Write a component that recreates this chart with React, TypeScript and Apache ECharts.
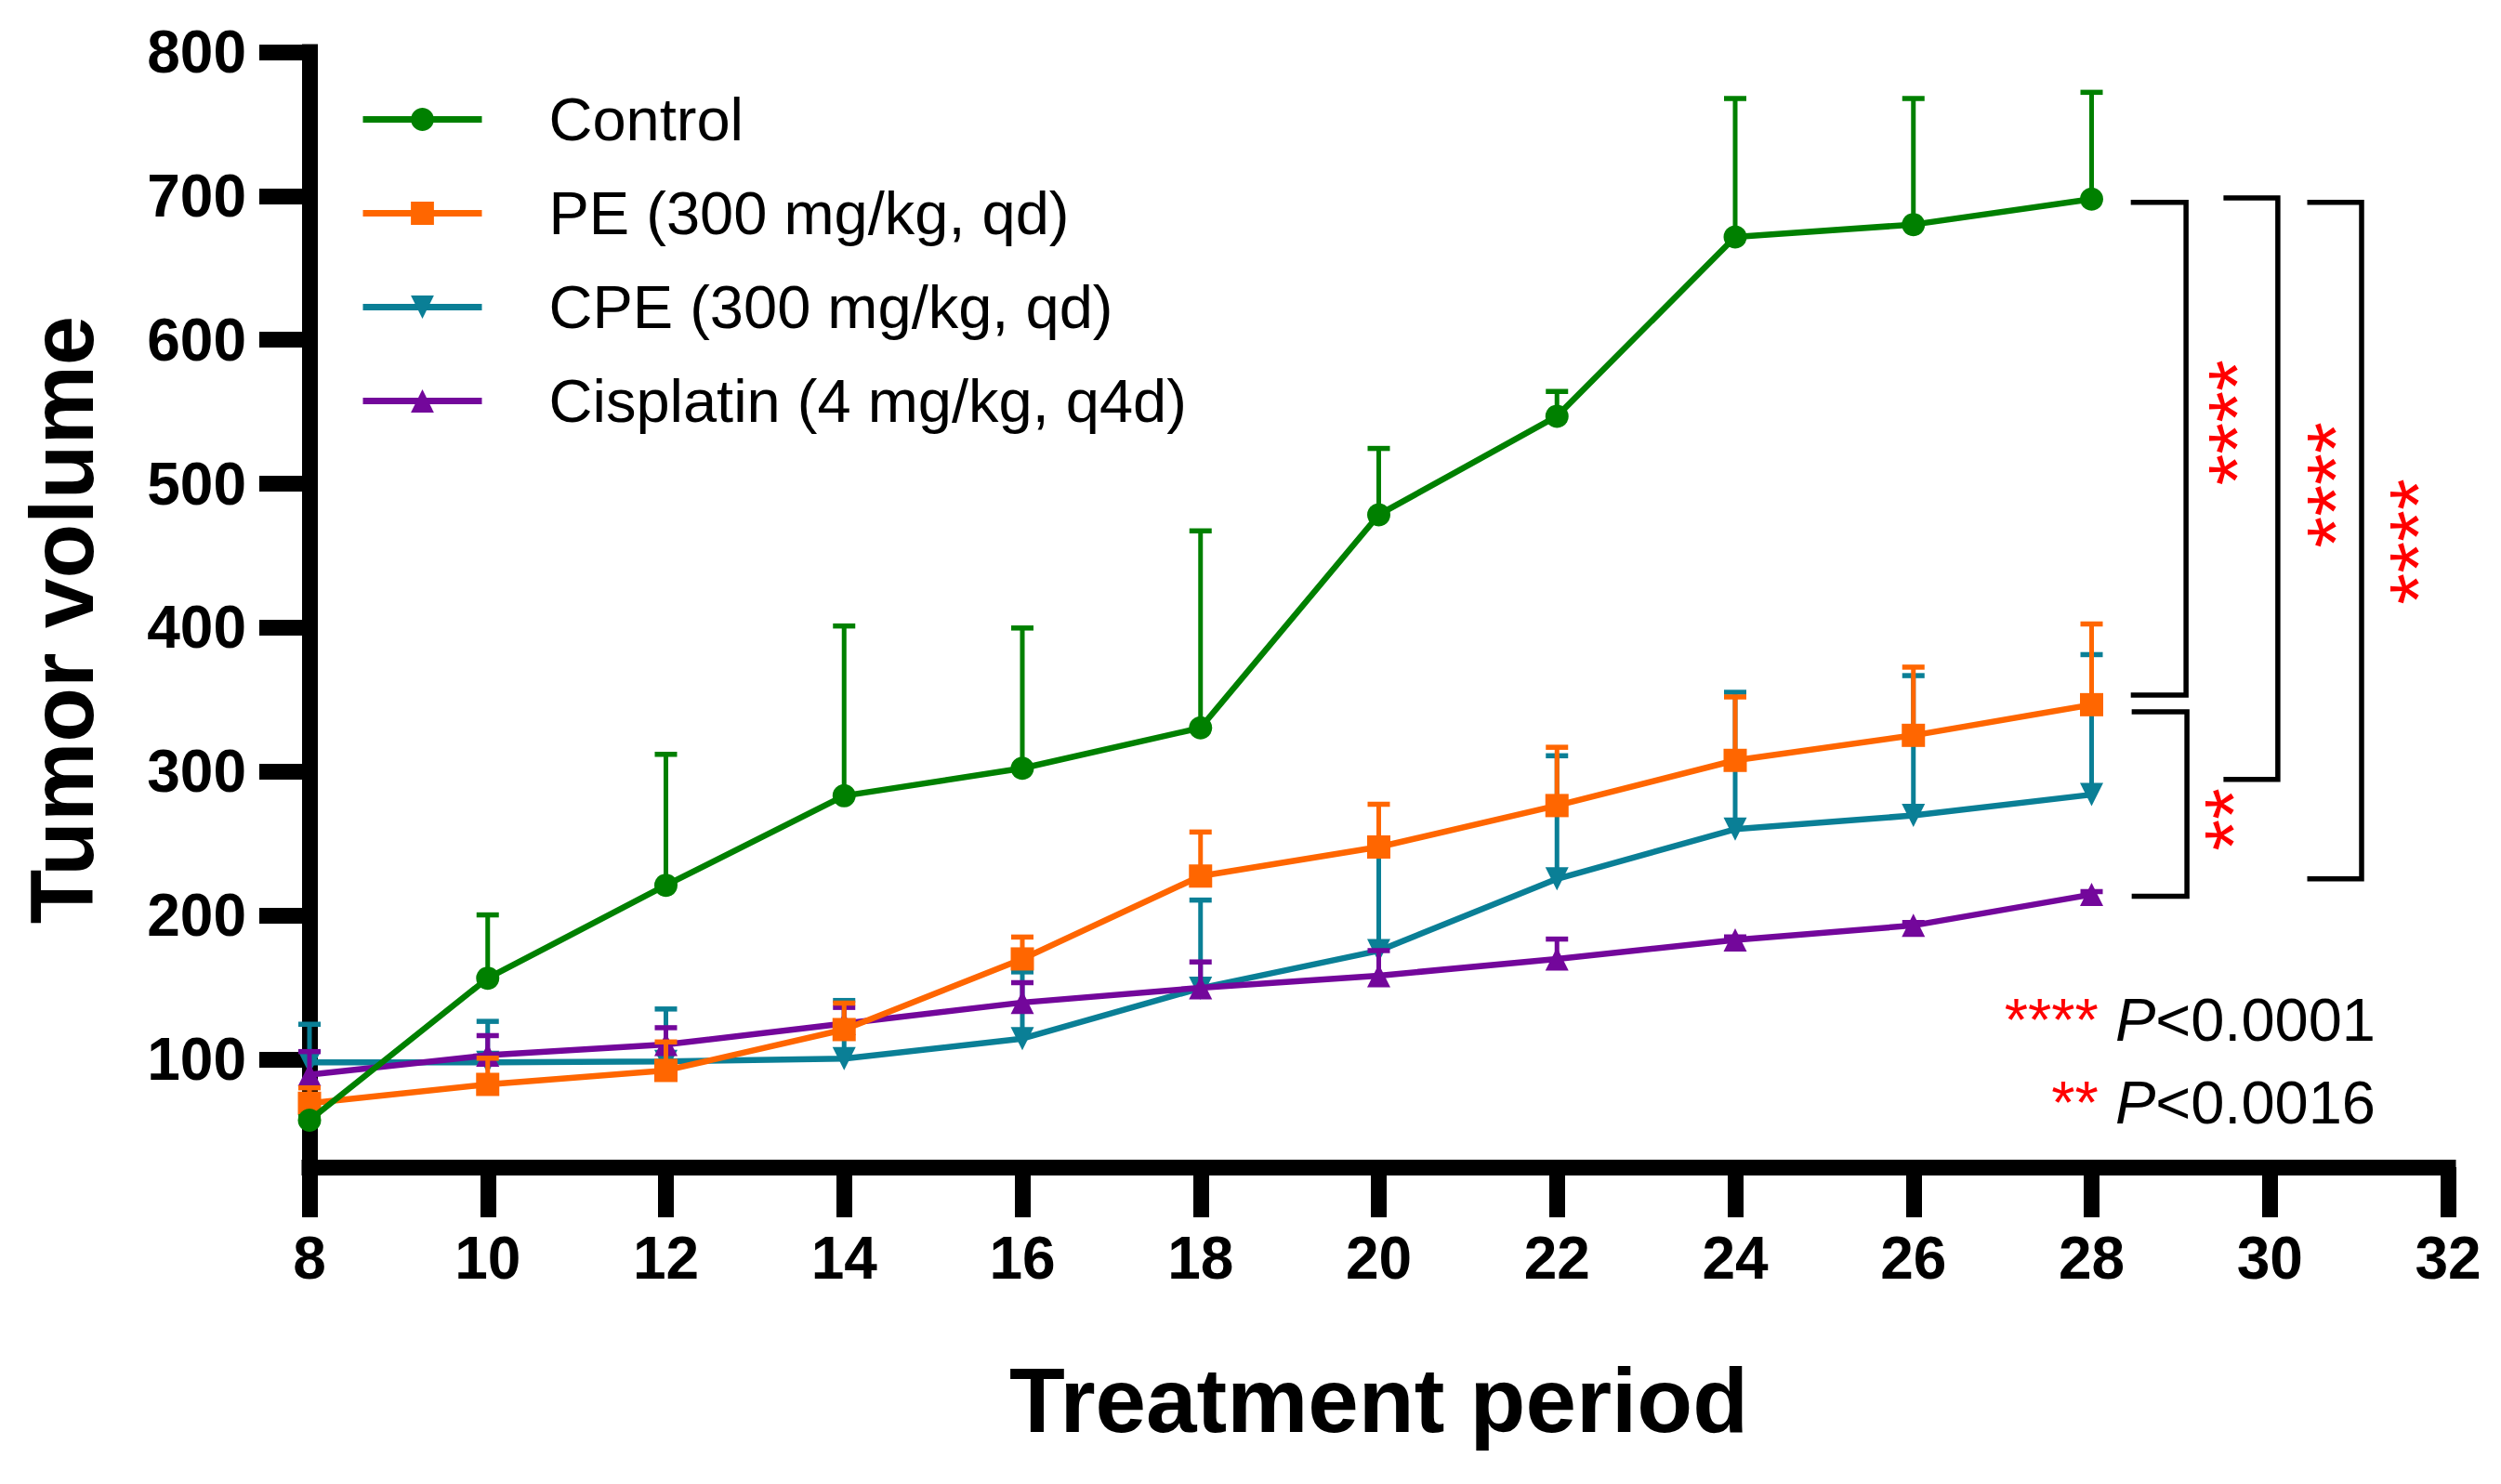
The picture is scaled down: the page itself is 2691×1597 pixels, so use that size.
import React, { useEffect, useRef } from "react";
import * as echarts from "echarts";

const FONT = '"Liberation Sans", Arial, Helvetica, sans-serif';

// ---- data -------------------------------------------------------------
const days = [8, 10, 12, 14, 16, 18, 20, 22, 24, 26, 28];

const groupNames = [
  "Control",
  "PE (300 mg/kg, qd)",
  "CPE (300 mg/kg, qd)",
  "Cisplatin (4 mg/kg, q4d)",
];

// mean tumor volume per group
const controlMean = [57.6, 156.3, 220.9, 283.1, 302.2, 330.3, 478.4, 546.9, 671.5, 680.1, 697.8];
const peMean = [69.4, 82.5, 92.2, 120.6, 169.7, 227.3, 247.5, 276.3, 307.7, 325.1, 346.4];
const cpeMean = [97.8, 97.8, 98.4, 100.4, 114.3, 149.4, 175.4, 225.3, 259.9, 269.4, 283.9];
const cisplatinMean = [89.2, 102.8, 110.2, 124.8, 139.4, 149.6, 158.1, 169.7, 182.9, 193.0, 214.5];

// upper end of the error bar (mean + SD)
const controlUpper = [60.0, 200.3, 311.9, 401.1, 399.7, 467.2, 524.5, 564.1, 767.7, 767.7, 772.0];
const peUpper = [80.1, 100.7, 112.0, 139.0, 184.9, 257.9, 277.2, 316.8, 351.8, 372.5, 402.5];
const cpeUpper = [124.3, 126.3, 134.9, 140.8, 160.7, 210.6, 245.0, 310.9, 355.0, 366.6, 381.2];
const cisplatinUpper = [105.3, 116.4, 121.9, 136.0, 153.2, 167.6, 175.5, 183.5, 185.0, 195.0, 216.5];

const yTickValues = [100, 200, 300, 400, 500, 600, 700, 800];

// significance brackets at the last time point: [x left, x right, y top, y bottom]
const brackets = [
  [28.44, 29.06, 695.6, 353.1],
  [28.45, 29.07, 341.5, 213.2],
  [29.48, 30.09, 698.6, 294.4],
  [30.42, 31.03, 695.6, 225.3],
];
const bracketStars = ["****", "**", "****", "****"];
const bracketStarX = [29.42, 29.38, 30.52, 31.45];
const bracketStarY = [542.4, 266.6, 499.1, 459.7];

// ---- styles -----------------------------------------------------------
const COLORS = ["#008000", "#FF6600", "#0A7F96", "#73079B"];
const SYMBOLS = ["circle", "rect", "path://M0,0L20,0L10,20Z", "triangle"];
// drawing order (higher on top)
const Z = [9, 7, 3, 5];

function lineSeries(idx: number, mean: number[]) {
  return {
    type: "line",
    name: groupNames[idx],
    data: days.map((d, i) => [d, mean[i]]),
    symbol: SYMBOLS[idx],
    symbolSize: 25,
    showAllSymbol: true,
    lineStyle: { width: 6.5, color: COLORS[idx] },
    itemStyle: { color: COLORS[idx] },
    z: Z[idx],
    silent: true,
    emphasis: { disabled: true },
  };
}

function errorSeries(idx: number, mean: number[], upper: number[]) {
  const color = COLORS[idx];
  return {
    type: "custom",
    name: groupNames[idx] + " SD",
    data: days.map((d, i) => [d, upper[i], mean[i]]),
    encode: { x: 0, y: 1 },
    z: Z[idx] - 1,
    silent: true,
    renderItem: (params: any, api: any) => {
      const base = api.coord([api.value(0), api.value(2)]);
      const top = api.coord([api.value(0), api.value(1)]);
      return {
        type: "group",
        children: [
          {
            type: "line",
            shape: { x1: base[0], y1: base[1], x2: top[0], y2: top[1] },
            style: { stroke: color, lineWidth: 5 },
          },
          {
            type: "line",
            shape: { x1: top[0] - 12, y1: top[1], x2: top[0] + 12, y2: top[1] },
            style: { stroke: color, lineWidth: 5.5 },
          },
        ],
      };
    },
  };
}

const bracketSeries = {
  type: "custom",
  name: "comparisons",
  data: brackets,
  encode: { x: [0, 1], y: [2, 3] },
  z: 12,
  silent: true,
  renderItem: (params: any, api: any) => {
    const i = params.dataIndex;
    const x0 = api.value(0);
    const x1 = api.value(1);
    const yt = api.value(2);
    const yb = api.value(3);
    const a = api.coord([x0, yt]);
    const b = api.coord([x1, yt]);
    const c = api.coord([x1, yb]);
    const d = api.coord([x0, yb]);
    const s = api.coord([bracketStarX[i], bracketStarY[i]]);
    return {
      type: "group",
      children: [
        {
          type: "polyline",
          shape: { points: [a, b, c, d] },
          style: { stroke: "#000", lineWidth: 5.5, fill: null, lineJoin: "miter" },
        },
        {
          type: "text",
          x: s[0] + 20,
          y: s[1],
          rotation: Math.PI / 2,
          style: {
            text: bracketStars[i],
            fill: "#FF0000",
            fontSize: 87,
            fontFamily: FONT,
            align: "center",
            verticalAlign: "middle",
          },
        },
      ],
    };
  },
};

const pTextStyle = (text: string) => ({
  text,
  align: "right",
  verticalAlign: "middle",
  fontSize: 65,
  fontFamily: FONT,
  fill: "#000",
  rich: {
    s: { fill: "#FF0000", fontSize: 65, fontFamily: FONT },
    i: { fill: "#000", fontSize: 65, fontFamily: FONT, fontStyle: "italic" },
  },
});

export default function App() {
  const ref = useRef<HTMLDivElement>(null);

  useEffect(() => {
    if (!ref.current) return;
    const chart = echarts.init(ref.current, null, { renderer: "svg" });

    const axisText = { color: "#000", fontFamily: FONT, fontWeight: "bold" as const };

    chart.setOption({
      animation: false,
      backgroundColor: "#fff",
      grid: {
        left: 333,
        right: 57,
        top: 56,
        bottom: 341,
        containLabel: false,
        outerBoundsMode: "none",
      },
      legend: {
        orient: "vertical",
        left: 387,
        top: 96,
        padding: 0,
        itemGap: 36,
        itemWidth: 128,
        itemHeight: 31,
        selectedMode: false,
        data: groupNames,
        lineStyle: { width: 7 },
        textStyle: {
          fontSize: 65,
          fontFamily: FONT,
          color: "#000",
          padding: [0, 0, 0, 67],
        },
      },
      xAxis: {
        type: "value",
        min: 8,
        max: 32,
        interval: 2,
        name: "Treatment period",
        nameLocation: "middle",
        nameGap: 202,
        nameTextStyle: { ...axisText, fontSize: 98 },
        axisLine: { show: true, onZero: false, lineStyle: { color: "#000", width: 17, cap: "square" } },
        axisTick: { show: true, length: 54, lineStyle: { color: "#000", width: 17 } },
        axisLabel: { ...axisText, fontSize: 64, margin: 66 },
        splitLine: { show: false },
      },
      yAxis: {
        type: "value",
        min: 25,
        max: 800,
        name: "Tumor volume",
        nameLocation: "middle",
        nameRotate: 90,
        nameGap: 219,
        nameTextStyle: { ...axisText, fontSize: 96, padding: [0, 22, 0, 0] },
        axisLine: { show: true, onZero: false, lineStyle: { color: "#000", width: 17, cap: "square" } },
        axisTick: {
          show: true,
          length: 54,
          customValues: yTickValues,
          lineStyle: { color: "#000", width: 17 },
        },
        axisLabel: { ...axisText, fontSize: 64, margin: 68, customValues: yTickValues },
        splitLine: { show: false },
      },
      graphic: [
        { type: "text", x: 2556, y: 1097, style: pTextStyle("{s|****} {i|P}<0.0001") },
        { type: "text", x: 2556, y: 1186, style: pTextStyle("{s|**} {i|P}<0.0016") },
      ],
      series: [
        errorSeries(2, cpeMean, cpeUpper),
        lineSeries(2, cpeMean),
        errorSeries(3, cisplatinMean, cisplatinUpper),
        lineSeries(3, cisplatinMean),
        errorSeries(1, peMean, peUpper),
        lineSeries(1, peMean),
        errorSeries(0, controlMean, controlUpper),
        lineSeries(0, controlMean),
        bracketSeries,
      ],
    });

    return () => chart.dispose();
  }, []);

  return (
    <div
      ref={ref}
      style={{ position: "absolute", left: 0, top: 0, width: 2691, height: 1597, background: "#fff" }}
    />
  );
}
